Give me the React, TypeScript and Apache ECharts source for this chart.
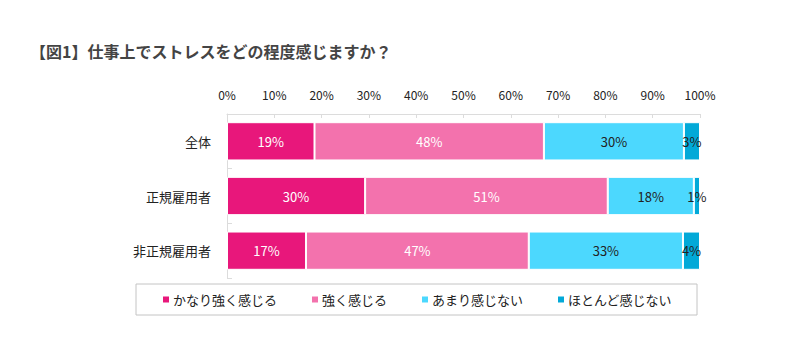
import React, { useEffect, useRef } from "react";
import * as echarts from "echarts";

const titleText = "【図1】仕事上でストレスをどの程度感じますか？";
const categories = ["全体", "正規雇用者", "非正規雇用者"];
const seriesNames = ["かなり強く感じる", "強く感じる", "あまり感じない", "ほとんど感じない"];
const veryStrong = [18.5, 29.2, 16.7];
const strong = [48.5, 51.3, 47.1];
const notMuch = [29.6, 18.2, 32.6];
const hardlyAny = [3.4, 1.3, 3.6];
const labelValues = [
  [19, 30, 17],
  [48, 51, 47],
  [30, 18, 33],
  [3, 1, 4],
];
const colors = ["#E8177B", "#F372AD", "#4CD8FE", "#02A9D8"];
const labelColors = ["#ffffff", "#ffffff", "#222222", "#222222"];

const FONT = "'Noto Sans CJK JP', 'Noto Sans', sans-serif";

export default function App() {
  const ref = useRef<HTMLDivElement>(null);
  useEffect(() => {
    if (!ref.current) return;
    const chart = echarts.init(ref.current, undefined, { renderer: "svg" });
    const data = [veryStrong, strong, notMuch, hardlyAny];
    chart.setOption({
      animation: false,
      textStyle: { fontFamily: FONT },
      title: {
        text: titleText,
        left: 22,
        top: 35,
        padding: 0,
        textStyle: { fontFamily: FONT, fontSize: 16, fontWeight: "bold", color: "#444" },
      },
      legend: {
        data: seriesNames,
        left: 128,
        top: 276,
        padding: [9, 25, 9, 25],
        borderColor: "#c4c4c4",
        borderWidth: 1,
        itemWidth: 8,
        itemHeight: 8,
        itemGap: 33,
        icon: "rect",
        textStyle: { fontFamily: FONT, fontSize: 13, color: "#222", padding: [0, 0, 0, -2] },
      },
      grid: { left: 219, right: 80, top: 106, bottom: 68, containLabel: false },
      xAxis: {
        type: "value",
        position: "top",
        min: 0,
        max: 100,
        interval: 10,
        axisLine: { show: true, lineStyle: { color: "#dcdcdc" } },
        axisTick: { show: true, inside: true, length: 4, lineStyle: { color: "#dcdcdc" } },
        splitLine: { show: false },
        axisLabel: {
          formatter: "{value}%",
          fontFamily: FONT,
          fontSize: 12,
          color: "#222",
          margin: 14,
        },
      },
      yAxis: {
        type: "category",
        data: categories,
        inverse: true,
        axisLine: { show: true, lineStyle: { color: "#dcdcdc" } },
        axisTick: { show: true, inside: true, length: 5, lineStyle: { color: "#dcdcdc" } },
        axisLabel: { fontFamily: FONT, fontSize: 13, color: "#222", margin: 16 },
      },
      series: seriesNames.map((name, i) => ({
        name,
        type: "bar",
        stack: "total",
        barWidth: "70%",
        data: data[i],
        itemStyle: { color: colors[i], borderColor: "#ffffff", borderWidth: 1 },
        label: {
          show: true,
          position: "inside",
          fontFamily: FONT,
          fontSize: 13,
          color: labelColors[i],
          formatter: (p: any) => labelValues[i][p.dataIndex] + "%",
        },
      })),
    });
    return () => chart.dispose();
  }, []);
  return <div ref={ref} style={{ width: 772, height: 338 }} />;
}
